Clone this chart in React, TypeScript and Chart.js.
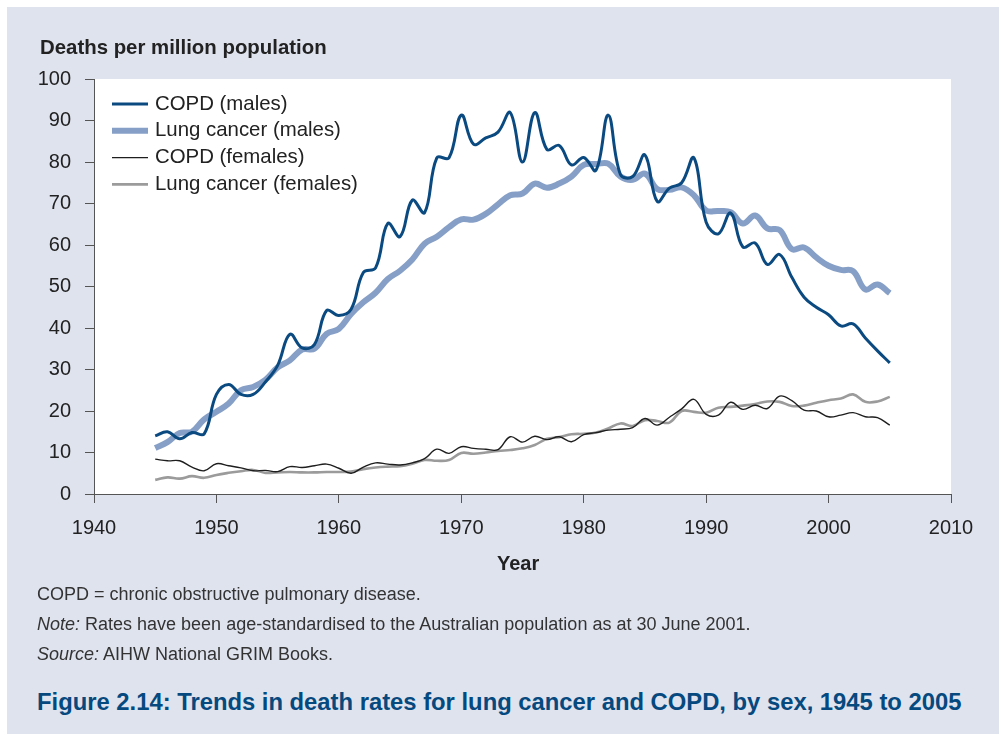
import React, { useEffect, useRef } from "react";
import { Chart, registerables } from "chart.js";

Chart.register(...registerables);

const years: number[] = [
  1945, 1946, 1947, 1948, 1949, 1950, 1951, 1952, 1953, 1954, 1955, 1956, 1957, 1958, 1959, 1960,
  1961, 1962, 1963, 1964, 1965, 1966, 1967, 1968, 1969, 1970, 1971, 1972, 1973, 1974, 1975, 1976,
  1977, 1978, 1979, 1980, 1981, 1982, 1983, 1984, 1985, 1986, 1987, 1988, 1989, 1990, 1991, 1992,
  1993, 1994, 1995, 1996, 1997, 1998, 1999, 2000, 2001, 2002, 2003, 2004, 2005,
];

const copdMales: number[] = [
  14, 15, 13.3, 14.8, 14.5, 24, 26.4, 24, 24, 27, 31, 38.5, 35.2, 36, 44.2, 43,
  44.5, 53.4, 54.5, 65.2, 62, 70.8, 67.8, 81, 81, 91.3, 84.3, 85.8, 87.2, 91.9, 80, 91.9,
  83, 84, 79.3, 81.1, 78, 91.3, 77, 76.5, 81.7, 70.5, 73.7, 75, 81, 65.5, 62.7, 67.7,
  59.5, 60.5, 55.3, 57.7, 52.2, 47.4, 45, 43.2, 40.5, 41, 37.6, 34.5, 31.6,
];

const lungMales: number[] = [
  11.1, 12.5, 14.7, 15, 18, 19.8, 21.8, 25, 25.8, 27.5, 30.5, 32.2, 34.8, 35, 38.6, 39.8,
  43.4, 46.2, 48.5, 51.8, 53.8, 56.5, 60.3, 62, 64.3, 66.2, 66.1, 67.5, 69.8, 72, 72.4, 74.8,
  73.8, 74.8, 76.5, 79.3, 79.5, 79.6, 76.5, 75.7, 77.2, 73.5, 73.3, 73.9, 72, 68.3, 68.2, 67.9,
  65.2, 67.1, 64, 63.6, 59, 59.4, 57, 55, 54, 53.7, 49.3, 50.5, 48.4,
];

const copdFemales: number[] = [
  8.4, 8, 8, 6.5, 5.6, 7.3, 6.8, 6.3, 5.6, 5.7, 5.4, 6.6, 6.4, 6.8, 7.2, 6.2,
  5, 6.5, 7.5, 7.2, 7, 7.5, 8.5, 10.8, 9.8, 11.4, 11, 10.8, 10.7, 13.8, 12.5, 13.9,
  13.1, 13.8, 12.6, 14.3, 14.8, 15.4, 15.6, 16, 18.2, 16.6, 18.5, 20.5, 22.8, 19.2, 19, 22.1,
  20.4, 21.4, 20.6, 23.6, 22.5, 20.2, 20, 18.6, 19, 19.6, 18.6, 18.4, 16.6,
];

const lungFemales: number[] = [
  3.4, 4, 3.7, 4.3, 3.9, 4.6, 5.1, 5.5, 5.8, 5.1, 5.2, 5.3, 5.2, 5.2, 5.3, 5.3,
  5.4, 6, 6.4, 6.6, 6.7, 7.3, 8.2, 8, 8.2, 9.9, 9.7, 10, 10.4, 10.6, 11, 11.8,
  13.3, 13.7, 14.4, 14.5, 14.8, 15.8, 17, 16.4, 17.8, 17.6, 17.2, 20, 19.8, 19.6, 20.8, 21,
  21.3, 21.7, 22.3, 22.2, 21.2, 21.3, 22, 22.6, 23, 24, 22.2, 22.3, 23.4,
];

const seriesLabels: string[] = [
  "COPD (males)",
  "Lung cancer (males)",
  "COPD (females)",
  "Lung cancer (females)",
];

const FONT = "'Liberation Sans', Arial, Helvetica, sans-serif";

const toPoints = (vals: number[]) => years.map((yr, i) => ({ x: yr, y: vals[i] }));

const bgPlugin = {
  id: "plotBg",
  beforeDraw(chart: any) {
    const { ctx, chartArea } = chart;
    ctx.save();
    ctx.fillStyle = "#ffffff";
    ctx.fillRect(chartArea.left, chartArea.top, chartArea.right - chartArea.left, chartArea.bottom - chartArea.top);
    ctx.restore();
  },
};

const legendPlugin = {
  id: "innerLegend",
  afterDatasetsDraw(chart: any) {
    const { ctx } = chart;
    ctx.save();
    chart.data.datasets.forEach((ds: any, i: number) => {
      const y = 104 + i * 26.8;
      ctx.strokeStyle = ds.borderColor;
      ctx.lineWidth = ds.borderWidth;
      ctx.lineCap = "butt";
      ctx.beginPath();
      ctx.moveTo(112, y);
      ctx.lineTo(148, y);
      ctx.stroke();
      ctx.fillStyle = "#222222";
      ctx.font = `20.4px ${FONT}`;
      ctx.textBaseline = "middle";
      ctx.textAlign = "left";
      ctx.fillText(ds.label, 155, y);
    });
    ctx.restore();
  },
};

export default function App() {
  const canvasRef = useRef<HTMLCanvasElement | null>(null);

  useEffect(() => {
    if (!canvasRef.current) return;
    const chart = new Chart(canvasRef.current, {
      type: "line",
      data: {
        datasets: [
          {
            label: seriesLabels[0],
            data: toPoints(copdMales),
            borderColor: "#0a4a80",
            borderWidth: 3,
            tension: 0.4,
            pointRadius: 0,
            fill: false,
          },
          {
            label: seriesLabels[1],
            data: toPoints(lungMales),
            borderColor: "#869fc6",
            borderWidth: 6,
            tension: 0.4,
            pointRadius: 0,
            fill: false,
          },
          {
            label: seriesLabels[2],
            data: toPoints(copdFemales),
            borderColor: "#1e1e1e",
            borderWidth: 1.4,
            tension: 0.4,
            pointRadius: 0,
            fill: false,
          },
          {
            label: seriesLabels[3],
            data: toPoints(lungFemales),
            borderColor: "#9b9b9b",
            borderWidth: 2.6,
            tension: 0.4,
            pointRadius: 0,
            fill: false,
          },
        ],
      },
      options: {
        animation: false,
        responsive: false,
        maintainAspectRatio: false,
        layout: { padding: { top: 79, right: 48, bottom: 0, left: 0 } },
        plugins: {
          legend: { display: false },
          tooltip: { enabled: false },
        },
        scales: {
          x: {
            type: "linear",
            min: 1940,
            max: 2010,
            afterFit: (scale: any) => {
              scale.height = 106;
            },
            ticks: {
              stepSize: 10,
              padding: 13,
              color: "#222222",
              font: { family: FONT, size: 20 },
              callback: (v: any) => String(v),
            },
            grid: {
              display: true,
              drawOnChartArea: false,
              drawTicks: true,
              tickLength: 9,
              color: "#555555",
              lineWidth: 1,
            },
            border: { display: true, color: "#555555", width: 1 },
          },
          y: {
            type: "linear",
            min: 0,
            max: 100,
            afterFit: (scale: any) => {
              scale.width = 94;
            },
            ticks: {
              stepSize: 10,
              padding: 14,
              color: "#222222",
              font: { family: FONT, size: 20 },
            },
            grid: {
              display: true,
              drawOnChartArea: false,
              drawTicks: true,
              tickLength: 9,
              color: "#555555",
              lineWidth: 1,
            },
            border: { display: true, color: "#555555", width: 1 },
          },
        },
      },
      plugins: [bgPlugin, legendPlugin],
    } as any);
    return () => chart.destroy();
  }, []);

  return (
    <div
      style={{
        position: "fixed",
        left: 0,
        top: 0,
        width: 999,
        height: 735,
        background: "#ffffff",
        fontFamily: FONT,
        overflow: "hidden",
      }}
    >
      <div
        style={{
          position: "absolute",
          left: 7,
          top: 7,
          width: 992,
          height: 727,
          background: "#dfe3ee",
        }}
      />
      <canvas
        ref={canvasRef}
        width={999}
        height={600}
        style={{ position: "absolute", left: 0, top: 0, width: 999, height: 600 }}
      />
      <div
        style={{
          position: "absolute",
          left: 40,
          top: 35,
          fontSize: 20.4,
          lineHeight: "24px",
          fontWeight: "bold",
          color: "#222222",
          whiteSpace: "nowrap",
        }}
      >
        Deaths per million population
      </div>
      <div
        style={{
          position: "absolute",
          left: 497,
          top: 551,
          fontSize: 20,
          lineHeight: "24px",
          fontWeight: "bold",
          color: "#222222",
          whiteSpace: "nowrap",
        }}
      >
        Year
      </div>
      <div
        style={{
          position: "absolute",
          left: 37,
          top: 579,
          fontSize: 18,
          lineHeight: "30px",
          color: "#333333",
          whiteSpace: "nowrap",
        }}
      >
        <div>COPD = chronic obstructive pulmonary disease.</div>
        <div>
          <i>Note:</i> Rates have been age-standardised to the Australian population as at 30 June 2001.
        </div>
        <div>
          <i>Source:</i> AIHW National GRIM Books.
        </div>
      </div>
      <div
        style={{
          position: "absolute",
          left: 37,
          top: 688,
          fontSize: 23.8,
          lineHeight: "28px",
          fontWeight: "bold",
          color: "#05497f",
          whiteSpace: "nowrap",
        }}
      >
        Figure 2.14: Trends in death rates for lung cancer and COPD, by sex, 1945 to 2005
      </div>
    </div>
  );
}
